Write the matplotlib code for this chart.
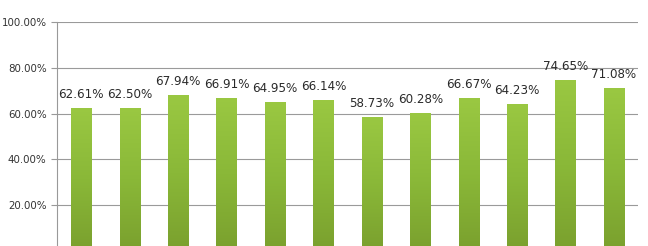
import numpy as np
import matplotlib
matplotlib.use("Agg")
import matplotlib.pyplot as plt
from matplotlib.ticker import FuncFormatter
from matplotlib.colors import LinearSegmentedColormap

# valores (porcentaje)
valores = [62.61, 62.50, 67.94, 66.91, 64.95, 66.14, 58.73, 60.28, 66.67, 64.23, 74.65, 71.08]
marcas_y = [0, 20, 40, 60, 80, 100]

fig = plt.figure(figsize=(6.48, 2.46), dpi=100)
ax = fig.add_axes([0.088, -0.021, 0.897, 0.9318])
ax.set_axisbelow(True)

x = np.arange(len(valores))
barras = ax.bar(x, valores, width=0.42, color="#8dbb3a", edgecolor="none", zorder=3)

# degradado verde dentro de cada barra (mas claro arriba)
degradado = LinearSegmentedColormap.from_list("verde", ["#7aa02e", "#8ab838", "#9ac842"])
grad = np.linspace(0, 1, 256).reshape(-1, 1)
for b in barras:
    x0, y0 = b.get_x(), b.get_y()
    w, h = b.get_width(), b.get_height()
    im = ax.imshow(grad, cmap=degradado, origin="lower", aspect="auto",
                   extent=[x0, x0 + w, y0, y0 + h], zorder=4)
    im.set_clip_path(b)

for xi, v in zip(x, valores):
    ax.annotate("{:.2f}%".format(v), (xi, v), xytext=(0, 5), textcoords="offset points",
                ha="center", va="bottom", fontsize=8.6, color="#2a2a2a")

ax.set_xlim(-0.5, len(valores) - 0.5)
ax.set_ylim(0, 100)
ax.set_yticks(marcas_y)
ax.yaxis.set_major_formatter(FuncFormatter(lambda v, p: "{:.2f}%".format(v)))
ax.tick_params(axis="y", labelsize=7.4, colors="#999999", labelcolor="#333333", length=4, width=0.8)
ax.set_xticks([])
ax.grid(axis="y", color="#9a9a9a", linewidth=0.8)

for lado in ["top", "right", "bottom"]:
    ax.spines[lado].set_visible(False)
ax.spines["left"].set_color("#999999")
ax.spines["left"].set_linewidth(0.8)

fig.savefig("out.png", dpi=100)
